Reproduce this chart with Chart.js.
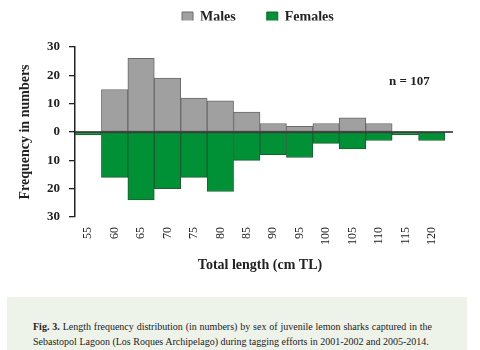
<!DOCTYPE html>
<html>
<head>
<meta charset="utf-8">
<script src="https://cdn.jsdelivr.net/npm/chart.js@4.4.1/dist/chart.umd.min.js"></script>
<style>
  html, body { margin: 0; padding: 0; background: #ffffff; }
  #wrap { position: relative; width: 480px; height: 350px; overflow: hidden; background: #fff; }
  #chartBox { position: absolute; left: 0; top: 0; width: 480px; height: 297px; }
  #caption { position: absolute; left: 7px; top: 297px; width: 460px; height: 53px; background: #eef3ea;
             font-family: "Liberation Serif", "DejaVu Serif", serif; font-size: 10px; color: #222; }
  #caption .l1 { position: absolute; left: 26px; top: 23px; width: 399px; text-align: justify; text-align-last: justify; white-space: nowrap; line-height: 14px; }
  #caption .l2 { position: absolute; left: 26px; top: 38px; white-space: nowrap; line-height: 14px; }
</style>
</head>
<body>
<div id="wrap">
  <div id="chartBox"><canvas id="c"></canvas></div>
  <div id="caption">
    <div class="l1"><b>Fig. 3.</b> Length frequency distribution (in numbers) by sex of juvenile lemon sharks captured in the</div>
    <div class="l2">Sebastopol Lagoon (Los Roques Archipelago) during tagging efforts in 2001-2002 and 2005-2014.</div>
  </div>
</div>
<script>
const lengthClasses = ["55", "60", "65", "70", "75", "80", "85", "90", "95", "100", "105", "110", "115", "120"];
const males   = [0, 15, 26, 19, 12, 11, 7, 3, 2, 3, 5, 3, 0, 0];
const females = [1, 16, 24, 20, 16, 21, 10, 8, 9, 4, 6, 3, 1, 3];
const yTicks  = [30, 20, 10, 0, 10, 20, 30];
const sampleLabel = "n = 107";

const SERIF = '"Liberation Serif", "DejaVu Serif", serif';
Chart.defaults.font.family = SERIF;
Chart.defaults.color = '#222';

const extras = {
  id: 'extras',
  afterLayout(chart) {
    const lg = chart.legend;
    if (lg) {
      const dy = -20.5 - lg.top;
      lg.top += dy; lg.bottom += dy;
      const w = lg.right - lg.left;
      lg.left = 151; lg.right = 151 + w;
    }
  },
  afterDatasetsDraw(chart) {
    const { ctx, chartArea, scales } = chart;
    const y0 = scales.y.getPixelForValue(0);
    ctx.save();
    ctx.strokeStyle = '#222';
    ctx.lineWidth = 1.3;
    ctx.beginPath();
    ctx.moveTo(chartArea.left, y0);
    ctx.lineTo(chartArea.right + 8, y0);
    ctx.stroke();
    ctx.fillStyle = '#222';
    ctx.font = 'bold 13px ' + SERIF;
    ctx.textAlign = 'left';
    ctx.textBaseline = 'middle';
    ctx.fillText(sampleLabel, chartArea.right - 56, scales.y.getPixelForValue(17.8));
    ctx.restore();
  }
};

new Chart(document.getElementById('c'), {
  type: 'bar',
  data: {
    labels: lengthClasses,
    datasets: [
      { label: 'Males', data: males, backgroundColor: '#a0a0a0', borderColor: '#6a6a6a', borderWidth: 1, borderSkipped: false },
      { label: 'Females', data: females.map(v => -v), backgroundColor: '#009036', borderColor: '#1c5e2f', borderWidth: 1, borderSkipped: false }
    ]
  },
  options: {
    responsive: true,
    maintainAspectRatio: false,
    animation: false,
    datasets: { bar: { categoryPercentage: 1.0, barPercentage: 1.0 } },
    layout: { padding: { left: 10, right: 35, top: 6, bottom: 20 } },
    plugins: {
      legend: {
        position: 'top',
        align: 'start',
        maxHeight: 41,
        labels: {
          boxWidth: 11, boxHeight: 11, padding: 31, color: '#222',
          font: { family: SERIF, size: 14, weight: 'bold' }
        }
      },
      tooltip: { enabled: false }
    },
    scales: {
      x: {
        stacked: true,
        grid: { display: false },
        border: { display: false },
        ticks: { maxRotation: 90, minRotation: 90, padding: 2, color: '#222', font: { family: SERIF, size: 12 } },
        title: { display: true, text: 'Total length (cm TL)', color: '#222', padding: { top: 4, bottom: 3 }, font: { family: SERIF, size: 14, weight: 'bold' } },
        afterFit(scale) { scale.height = 60; }
      },
      y: {
        stacked: true,
        min: -30, max: 30,
        afterBuildTicks(scale) {
          scale.ticks = yTicks.map((v, i) => ({ value: i < 3 ? v : -v }));
        },
        grid: { display: true, drawOnChartArea: false, drawTicks: true, tickLength: 6, color: '#222', lineWidth: 1.3 },
        border: { display: true, color: '#222', width: 1.5 },
        ticks: {
          padding: 9, color: '#222', font: { family: SERIF, size: 13, weight: 'bold' },
          callback: v => Math.abs(v)
        },
        title: { display: true, text: 'Frequency in numbers', color: '#222', padding: { top: 7, bottom: 2 }, font: { family: SERIF, size: 14, weight: 'bold' } },
        afterFit(scale) { scale.width = 65; }
      }
    }
  },
  plugins: [extras]
});
</script>
</body>
</html>
